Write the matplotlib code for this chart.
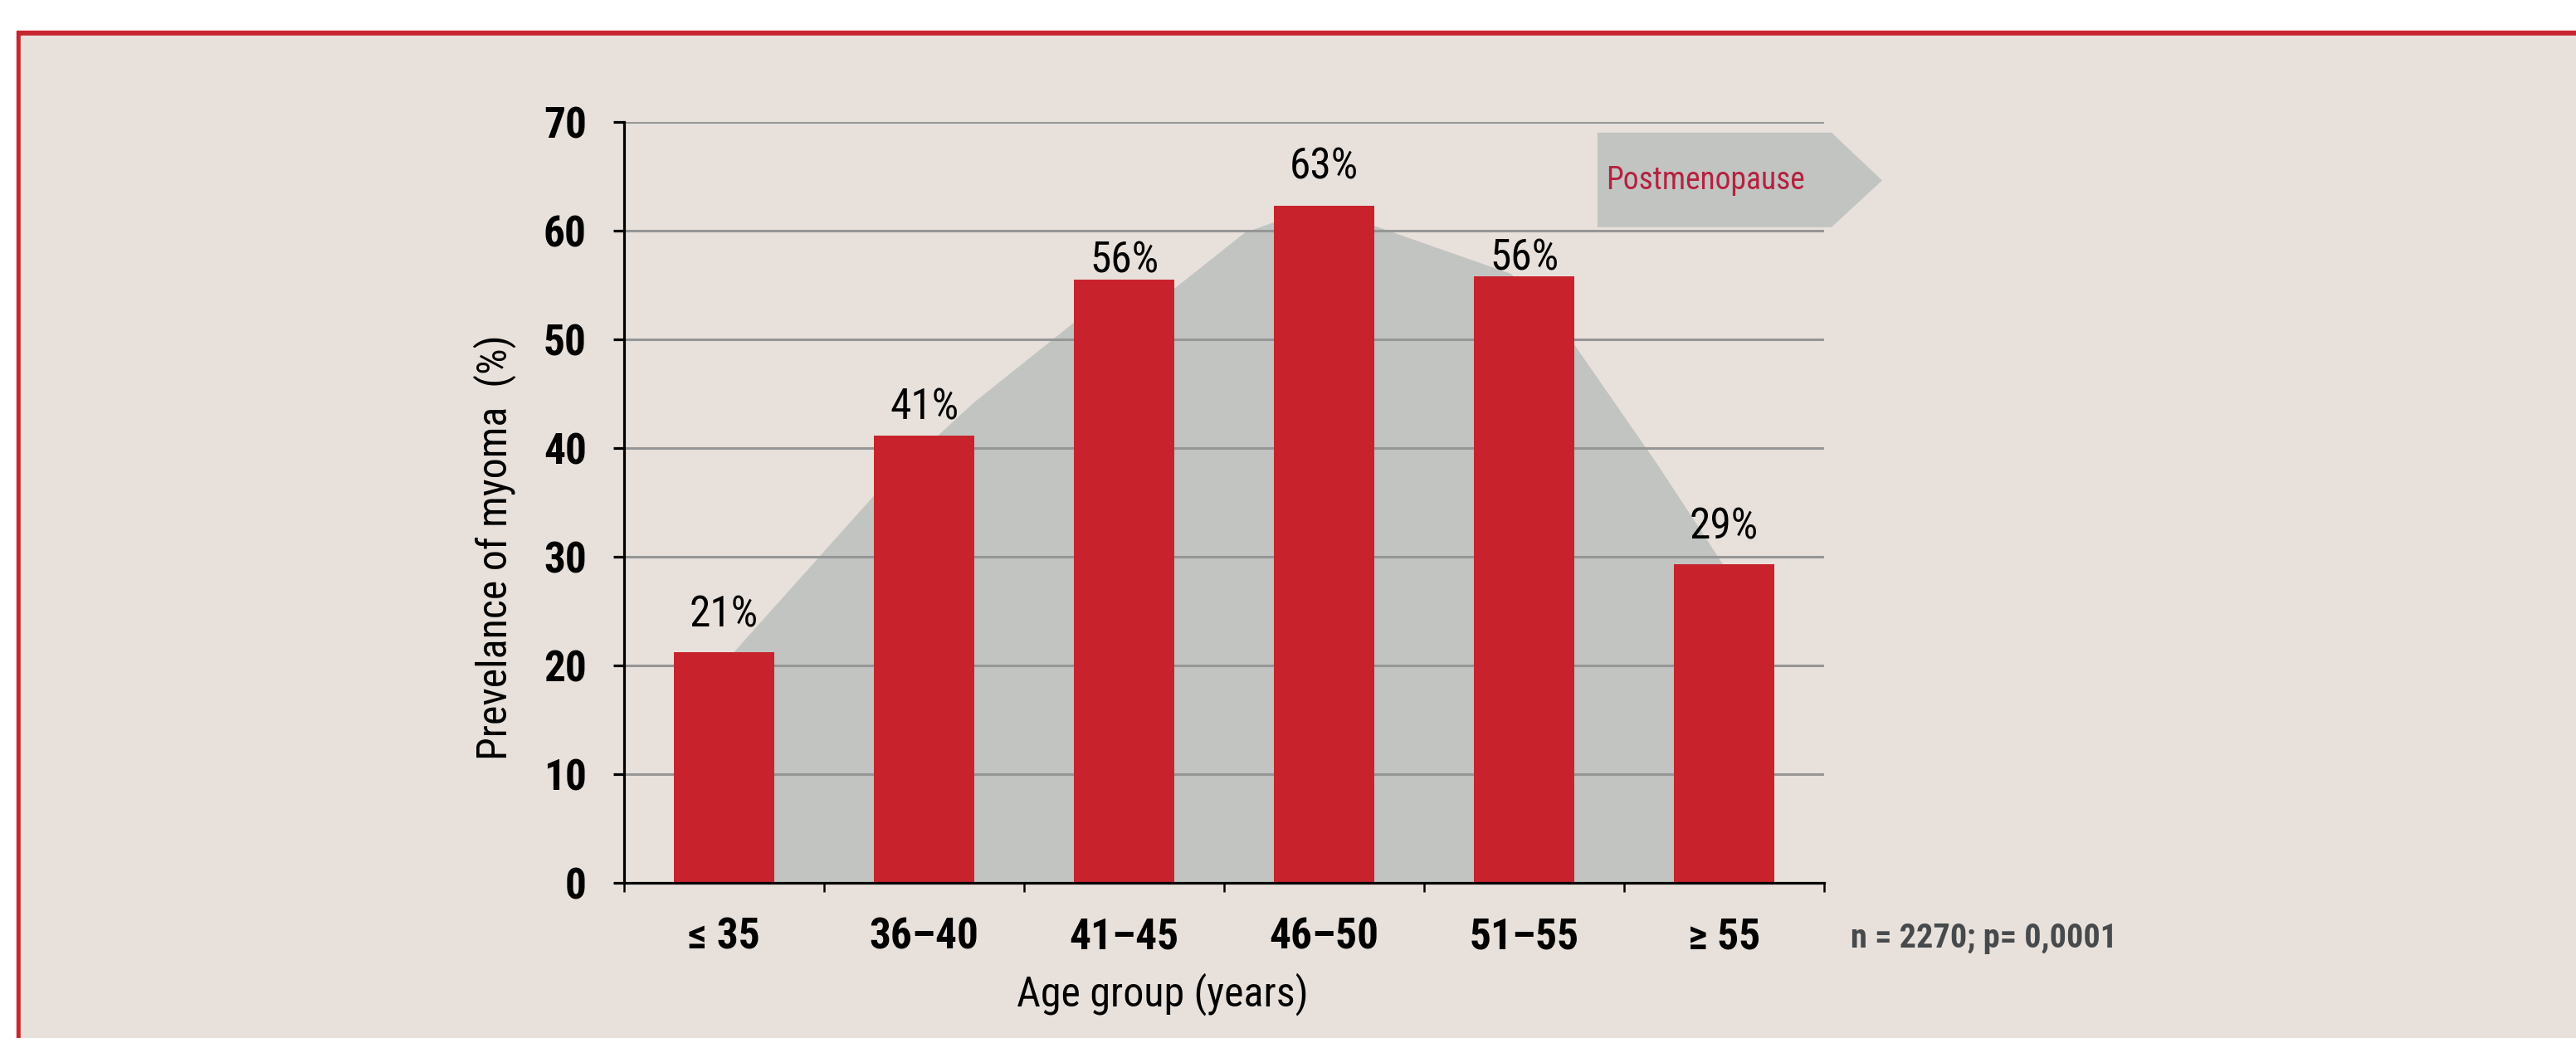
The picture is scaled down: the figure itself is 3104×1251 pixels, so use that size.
import matplotlib
matplotlib.use('Agg')
import matplotlib.pyplot as plt
from matplotlib.patches import Rectangle, Polygon
from matplotlib import font_manager as fm

# ---------------- data ----------------
categories = ['≤ 35', '36–40', '41–45', '46–50', '51–55', '≥ 55']
prevalence = [21.2, 41.1, 55.5, 62.3, 55.8, 29.3]
value_labels = ['21%', '41%', '56%', '63%', '56%', '29%']
y_ticks = [0, 10, 20, 30, 40, 50, 60, 70]
y_tick_labels = ['0', '10', '20', '30', '40', '50', '60', '70']
# background "hill" outline (category units / percent)
hill_x = [0.0, 0.044, 0.749, 1.068, 1.18, 1.251, 1.761, 2.255, 2.604, 2.757,
          3.006, 3.255, 3.936, 4.255, 4.666, 4.994, 5.0]
hill_y = [20.5, 21.1, 35.6, 41.1, 43.0, 44.2, 51.7, 54.7, 59.8, 60.8,
          61.7, 60.4, 56.0, 49.4, 38.5, 29.3, 29.2]
arrow_label = 'Postmenopause'
note_text = 'n = 2270; p= 0,0001'
x_title = 'Age group (years)'
y_title = 'Prevelance of myoma  (%)'

# ---------------- font selection (prefer a condensed sans) ----------------
entries = fm.fontManager.ttflist
cond_names = {}
for f in entries:
    n = f.name
    if 'Mono' in n or 'Serif' in n or 'CJK' in n:
        continue
    st = str(f.stretch)
    if ('Narrow' in n or 'Condensed' in n or st in ('condensed', 'semi-condensed',
                                                    'extra-condensed', '300', '400', '450')):
        cond_names.setdefault((n, st), set()).add(str(f.weight))
preferred = ['Liberation Sans Narrow', 'Roboto Condensed', 'Open Sans Condensed',
             'Noto Sans Condensed', 'Arial Narrow', 'DejaVu Sans Condensed',
             'Noto Sans', 'Open Sans', 'Roboto', 'DejaVu Sans']
main_font, main_stretch = None, 'normal'
for p in preferred:
    for (n, st), ws in cond_names.items():
        if n == p:
            main_font, main_stretch = n, st
            break
    if main_font:
        break
if main_font is None and cond_names:
    (main_font, main_stretch) = sorted(cond_names.keys())[0]
scale = 1.0
if main_font is None:
    main_font, main_stretch, scale = 'Liberation Sans', 'normal', 0.9
try:
    main_stretch = int(main_stretch)
except ValueError:
    pass
plt.rcParams['font.family'] = [main_font, 'DejaVu Sans']
plt.rcParams['font.stretch'] = main_stretch

W, H = 3104, 1251
BG = '#e8e1db'
RED = '#c8232c'
HILL = '#c2c4c2'
label_offsets = [22, 14, 6, 23, 5, 22]  # points above bar top
FS = 37 * scale

fig = plt.figure(figsize=(W / 100, H / 100), dpi=100)
fig.patch.set_facecolor('white')
fig.patches.append(Rectangle((20 / W, 0), 1, 1 - 37 / H, transform=fig.transFigure,
                             color='#c8262f', zorder=-10))
fig.patches.append(Rectangle((25 / W, 0), 1, 1 - 43 / H, transform=fig.transFigure,
                             color=BG, zorder=-9))

ax = fig.add_axes([752 / W, 1 - 1064 / H, 1446 / W, (1064 - 146.7) / H])
ax.patch.set_visible(False)

# hill
poly_x = hill_x + [hill_x[-1], hill_x[0]]
poly_y = hill_y + [0, 0]
ax.fill(poly_x, poly_y, color=HILL, zorder=0.5, lw=0)

# bars
xs = list(range(len(categories)))
ax.bar(xs, prevalence, width=0.5, color=RED, zorder=3)
for x, v, lab, off in zip(xs, prevalence, value_labels, label_offsets):
    ax.annotate(lab, (x, v), xytext=(0, off), textcoords='offset points',
                ha='center', va='baseline', fontsize=FS, color='black', zorder=4)

ax.set_xlim(-0.5, 5.5)
ax.set_ylim(0, 70)

# grid
ax.set_yticks(y_ticks, labels=y_tick_labels)
ax.yaxis.grid(True, color='#969696', lw=2.2, zorder=1)
ax.set_axisbelow(False)
for gl in ax.yaxis.get_gridlines():
    gl.set_zorder(1)

for s in ['top', 'right']:
    ax.spines[s].set_visible(False)
for s in ['left', 'bottom']:
    ax.spines[s].set_color('black')
    ax.spines[s].set_linewidth(2.3)
    ax.spines[s].set_zorder(5)

ax.tick_params(axis='y', direction='out', length=9.5, width=2.3, color='black',
               pad=23, labelsize=FS)
for t in ax.get_yticklabels():
    t.set_fontweight('bold')

ax.set_xticks(xs, labels=categories)
ax.set_xticks([i - 0.5 for i in range(len(categories) + 1)], minor=True)
ax.tick_params(axis='x', which='major', length=0, pad=29, labelsize=FS)
ax.tick_params(axis='x', which='minor', direction='out', length=8, width=1.8, color='black')
for t in ax.get_xticklabels():
    t.set_fontweight('bold')

# axis titles
ax.text((1401 - 752) / 1446, (1064 - 1212) / (1064 - 146.7), x_title,
        transform=ax.transAxes, ha='center', va='baseline', fontsize=36 * scale)
ax.text((610 - 752) / 1446, (1064 - 660) / (1064 - 146.7), y_title,
        transform=ax.transAxes, ha='center', va='baseline', rotation=90,
        rotation_mode='anchor', fontsize=36 * scale)

# postmenopause arrow
arrow = Polygon([(4.367, 69.0), (5.537, 69.0), (5.790, 64.6), (5.537, 60.3), (4.367, 60.3)],
                closed=True, color=HILL, lw=0, clip_on=False, zorder=2)
ax.add_patch(arrow)
ax.text(4.409, 63.8, arrow_label, ha='left', va='baseline', fontsize=27 * scale,
        color='#b5213f', zorder=4)

# note
fig.text(2230 / W, 1 - 1141.7 / H, note_text, ha='left', va='baseline', fontsize=29 * scale,
         fontweight='bold', color='#474a4c')

fig.savefig('out.png', dpi=100, facecolor=fig.get_facecolor())
